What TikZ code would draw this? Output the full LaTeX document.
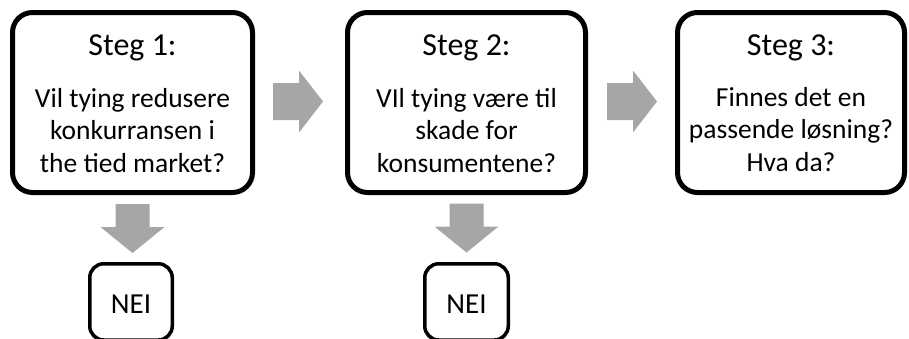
\documentclass[tikz,border=0pt]{standalone}
\usepackage{fontspec}
\setmainfont{Carlito}
\begin{document}
\begin{tikzpicture}[x=1pt,y=-1pt,
  stepbox/.style={draw=black, line width=5pt, rounded corners=20pt, fill=white},
  neibox/.style={draw=black, line width=3.5pt, rounded corners=14pt, fill=white},
  titletext/.style={font=\fontsize{32}{38}\selectfont, anchor=base, inner sep=0pt},
  bodytext/.style={font=\fontsize{27.5}{32.5}\selectfont, align=center, anchor=base, inner sep=0pt},
  neitext/.style={font=\fontsize{29}{34}\selectfont, anchor=base, inner sep=0pt},
  arrowfill/.style={fill=black!35, draw=none},
  harrow/.pic={\fill[arrowfill] (0,-18.5) -- (26,-18.5) -- (26,-31) -- (50,0)
                 -- (26,31) -- (26,18.5) -- (0,18.5) -- cycle;},
  varrow/.pic={\fill[arrowfill] (-17,0) -- (-17,23) -- (-32,23) -- (0,49)
                 -- (32,23) -- (17,23) -- (17,0) -- cycle;}
]
\useasboundingbox (0,0) rectangle (909,338);

% the three steps
\draw[stepbox] (12.5,12.5) rectangle (252.5,192.5);
\draw[stepbox] (347.5,12.5) rectangle (585.5,192.5);
\draw[stepbox] (677.5,12.5) rectangle (904.5,192.5);

% titles sit on their baseline; question blocks sit on the baseline of their last line
\node[titletext] (t1) at (132.5,55) {Steg 1:};
\node[bodytext]  (b1) at (132.5,172) {Vil tying redusere\\konkurransen i\\the tied market?};
\node[titletext] (t2) at (466.5,55) {Steg 2:};
\node[bodytext]  (b2) at (466.5,172) {VIl tying være til\\skade for\\konsumentene?};
\node[titletext] (t3) at (791,55) {Steg 3:};
\node[bodytext]  (b3) at (791,171) {Finnes det en\\passende løsning?\\Hva da?};

% block arrows between the steps
\pic at (273,101.5) {harrow};
\pic at (607,101.5) {harrow};

% block arrows down to the answers
\pic at (132.5,204) {varrow};
\pic at (466.5,203.5) {varrow};

% answer boxes
\draw[neibox] (89.75,263.75) rectangle (172.25,340);
\node[neitext] (n1) at (131,313) {NEI};
\draw[neibox] (424.75,263.75) rectangle (508.25,340);
\node[neitext] (n2) at (466.5,313) {NEI};
\end{tikzpicture}
\end{document}
